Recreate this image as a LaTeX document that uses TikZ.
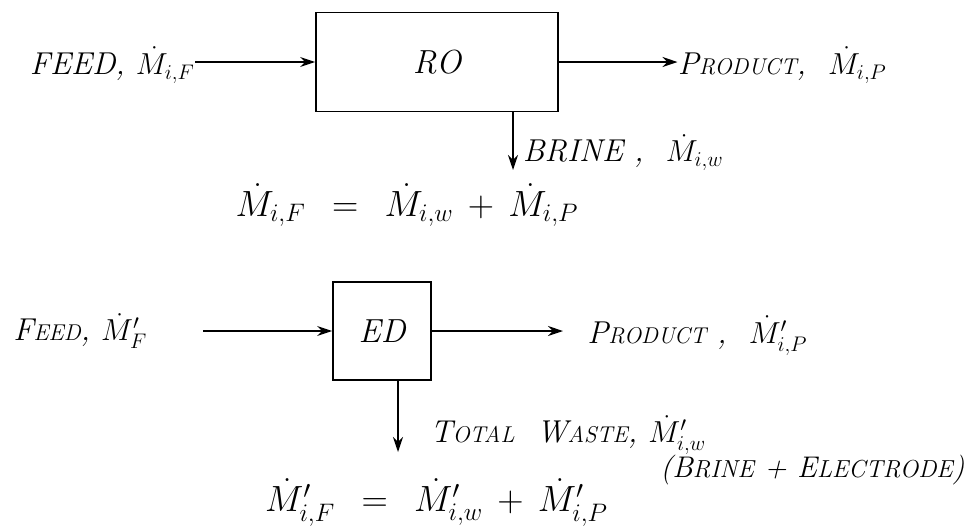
\documentclass[tikz,border=0pt]{standalone}
\usepackage{amsmath}
\usetikzlibrary{arrows.meta,positioning}
\newcommand{\lowcaps}[1]{{\fontsize{13}{15}\selectfont #1}}
\newcommand{\midcaps}[1]{{\fontsize{14}{16}\selectfont #1}}

\begin{document}
\begin{tikzpicture}[
  hand/.style={font=\fontsize{18}{21}\selectfont\itshape, inner sep=0pt},
  balance/.style={font=\fontsize{21}{24}\selectfont, inner sep=0pt},
  unitbox/.style={draw, line width=1pt, font=\fontsize{19}{22}\selectfont\itshape},
  flow/.style={-{Stealth[length=3mm,width=2mm]}, line width=0.8pt}]
  \useasboundingbox (0,0) rectangle (19.4,-10.58);

  % reverse osmosis
  \node[unitbox, minimum width=4.84cm, minimum height=1.98cm] (ro) at (8.74,-1.24) {RO};
  \node[hand, anchor=east] (feedRO) at (3.9,-1.3) {FEED, $\dot{M}_{i,F}$};
  \node[hand, anchor=west] (prodRO) at (13.55,-1.3) {P\lowcaps{RODUCT}, \ $\dot{M}_{i,P}$};
  \coordinate (brineEnd) at (10.26,-3.4);
  \node[hand, anchor=west] (brineRO) at (10.45,-3.05) {BRINE , \ $\dot{M}_{i,w}$};
  \draw[flow] (feedRO.east |- ro.west) -- (ro.west);
  \draw[flow] (ro.east) -- (prodRO.west |- ro.east);
  \draw[flow] (ro.south -| brineEnd) -- (brineEnd);
  \node[balance] (balRO) at (8.14,-4.1) {$\dot{M}_{i,F} \;\,=\;\, \dot{M}_{i,w} \,+\, \dot{M}_{i,P}$};

  % electrodialysis
  \node[unitbox, minimum width=1.96cm, minimum height=1.96cm] (ed) at (7.64,-6.62) {ED};
  \node[hand, anchor=west] (feedED) at (0.26,-6.62) {F\lowcaps{EED}, $\dot{M}'_{F}$};
  \coordinate (edIn) at (4.06,-6.62);
  \node[hand, anchor=west] (prodED) at (11.74,-6.72) {P\lowcaps{RODUCT} , \ $\dot{M}'_{i,P}$};
  \coordinate (edOut) at (11.26,-6.62);
  \coordinate (wasteEnd) at (7.96,-9.04);
  \node[hand, anchor=west] (wasteED) at (8.6,-8.7) {T\lowcaps{OTAL} \ W\lowcaps{ASTE}, $\dot{M}'_{i,w}$};
  \node[anchor=east, inner sep=0pt, font=\fontsize{17}{20}\selectfont\itshape] (mixED) at (19.3,-9.4) {(B\midcaps{RINE} + E\midcaps{LECTRODE})};
  \draw[flow] (edIn) -- (ed.west);
  \draw[flow] (ed.east) -- (edOut);
  \draw[flow] (ed.south -| wasteEnd) -- (wasteEnd);
  \node[balance] (balED) at (8.73,-10.05) {$\dot{M}'_{i,F} \;\,=\;\, \dot{M}'_{i,w} \,+\, \dot{M}'_{i,P}$};
\end{tikzpicture}
\end{document}
